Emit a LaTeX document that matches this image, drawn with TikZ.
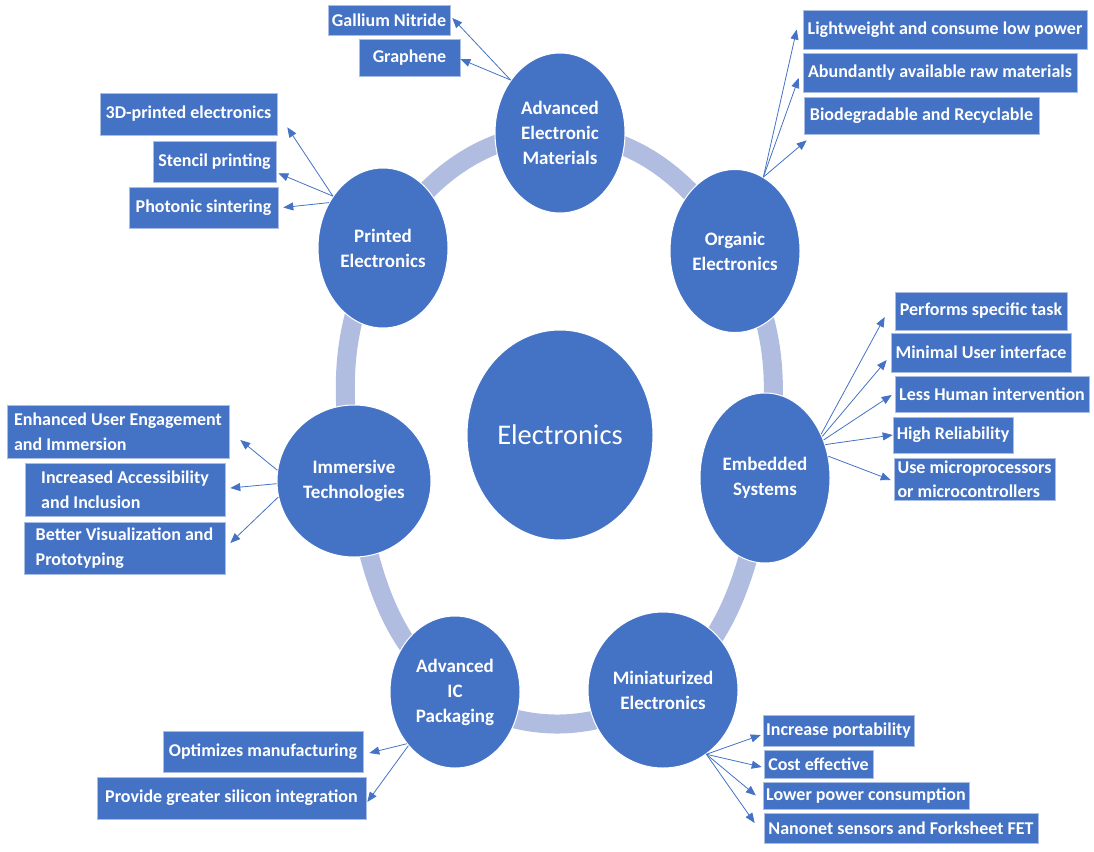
\documentclass[tikz,border=0pt]{standalone}
\usepackage{fontspec}
\setmainfont{Carlito}
\usetikzlibrary{shapes.geometric,arrows.meta,backgrounds}
\definecolor{topicblue}{RGB}{68,114,196}
\definecolor{ringblue}{RGB}{176,189,224}
\definecolor{edgeblue}{RGB}{170,190,228}
\tikzset{
  topic/.style={ellipse, draw=white, line width=1pt, fill=topicblue, text=white,
    font=\bfseries\fontsize{19}{25}\selectfont, align=center, inner sep=0pt},
  hub/.style={topic, font=\fontsize{28.5}{32}\selectfont},
  item/.style={rectangle, draw=edgeblue, line width=0.6pt, fill=topicblue, text=white,
    font=\bfseries\fontsize{18}{24.5}\selectfont, align=left, inner sep=3pt},
  line/.style={draw=topicblue, line width=0.8pt, -{Triangle[length=10pt,width=8pt]}},
  ring/.style={draw=ringblue, line width=19pt}
}

\begin{document}
\begin{tikzpicture}[x=1pt, y=-1pt]
    \useasboundingbox (0,0) rectangle (1094,851);
    % Place topics
    \node [hub, minimum width=186pt, minimum height=210pt] (elec) at (560,435) {Electronics};
    \node [topic, minimum width=130pt, minimum height=160pt] (aem) at (560,133) {Advanced\\Electronic\\Materials};
    \node [topic, minimum width=130pt, minimum height=163pt] (org) at (735,251) {Organic\\Electronics};
    \node [topic, minimum width=130pt, minimum height=170pt] (emb) at (765,478) {Embedded\\Systems};
    \node [topic, minimum width=150pt, minimum height=156pt] (mini) at (663,690) {Miniaturized\\Electronics};
    \node [topic, minimum width=130pt, minimum height=152pt] (icp) at (455,692) {Advanced\\IC\\Packaging};
    \node [topic, minimum width=154pt, minimum height=152pt] (imm) at (354,481) {Immersive\\Technologies};
    \node [topic, minimum width=130pt, minimum height=160pt] (prt) at (383,248) {Printed\\Electronics};
    % Ring behind the topics
    \begin{pgfonlayer}{background}
    \draw [ring] plot [smooth cycle, tension=0.75] coordinates {(aem.center) (org.center) (emb.center) (mini.center) (icp.center) (imm.center) (prt.center)};
    \end{pgfonlayer}
    % Place items
    \node [item, minimum width=122pt, minimum height=30pt] (gan) at (389,20) {Gallium Nitride};
    \node [item, minimum width=101pt, minimum height=37pt] (gra) at (409.5,57.5) {Graphene};
    \node [item, minimum width=284pt, minimum height=39pt] (light) at (945,29.5) {Lightweight and consume low power};
    \node [item, minimum width=274pt, minimum height=39pt] (abund) at (940,72.5) {Abundantly available raw materials};
    \node [item, minimum width=235pt, minimum height=37pt] (bio) at (921.5,115.5) {Biodegradable and Recyclable};
    \node [item, minimum width=177pt, minimum height=42pt] (ptd) at (188.5,114) {3D-printed electronics};
    \node [item, minimum width=123pt, minimum height=41pt] (sten) at (214.5,161.5) {Stencil printing};
    \node [item, minimum width=149pt, minimum height=41pt] (pho) at (203.5,207.5) {Photonic sintering};
    \node [item, minimum width=172pt, minimum height=38pt] (task) at (981,311) {Performs specific task};
    \node [item, minimum width=180pt, minimum height=39pt] (ui) at (981,352.5) {Minimal User interface};
    \node [item, minimum width=194pt, minimum height=36pt] (human) at (992,394) {Less Human intervention};
    \node [item, minimum width=120pt, minimum height=36pt] (rel) at (953,435) {High Reliability};
    \node [item, minimum width=161pt, minimum height=42pt, inner sep=1pt] (mcu) at (974.5,479) {Use microprocessors\\or microcontrollers};
    \node [item, minimum width=222pt, minimum height=53pt] (enh) at (118,431.5) {Enhanced User Engagement\\and Immersion};
    \node [item, minimum width=200pt, minimum height=53pt] (acc) at (125,489.5) {Increased Accessibility\\and Inclusion};
    \node [item, minimum width=201pt, minimum height=52pt] (vis) at (124.5,548) {Better Visualization and\\Prototyping};
    \node [item, minimum width=200pt, minimum height=41pt] (opt) at (263,751.5) {Optimizes manufacturing};
    \node [item, minimum width=269pt, minimum height=42pt] (sil) at (231.5,798) {Provide greater silicon integration};
    \node [item, minimum width=149pt, minimum height=31pt] (port) at (838.5,730.5) {Increase portability};
    \node [item, minimum width=109pt, minimum height=28pt] (cost) at (818.5,764) {Cost effective};
    \node [item, minimum width=204pt, minimum height=27pt] (pow) at (866,795.5) {Lower power consumption};
    \node [item, minimum width=274pt, minimum height=30pt] (nano) at (901,828) {Nanonet sensors and Forksheet FET};
    % Draw arrows
    \path [line] (aem.133) -- ([xshift=2pt,yshift=2pt]gan.east);
    \path [line] (aem.133) -- ([yshift=-1.5pt]gra.east);
    \path [line] (org.69) -- ([xshift=-6pt]light.west);
    \path [line] (org.69) -- ([xshift=-4pt,yshift=-5.5pt]abund.west);
    \path [line] (org.69) -- ([xshift=3pt,yshift=-6pt]bio.south west);
    \path [line] (prt.134) -- ([xshift=10pt,yshift=8pt]ptd.south east);
    \path [line] (prt.134) -- ([xshift=2pt,yshift=9pt]sten.south east);
    \path [line] (prt.140) -- ([xshift=5pt]pho.east);
    \path [line] (emb.38) -- ([xshift=-10pt,yshift=-6pt]task.west);
    \path [line] (emb.36) -- ([xshift=-4pt,yshift=-7.5pt]ui.west);
    \path [line] (emb.33) -- ([xshift=-3pt,yshift=-1pt]human.west);
    \path [line] (emb.29) -- (rel.west);
    \path [line] (emb.19) -- ([xshift=-3pt,yshift=-1pt]mcu.west);
    \path [line] (imm.172) -- ([xshift=11pt,yshift=-8.5pt]enh.east);
    \path [line] (imm.182) -- ([xshift=5pt,yshift=1.5pt]acc.east);
    \path [line] (imm.192) -- ([xshift=5pt,yshift=5pt]vis.east);
    \path [line] (icp.227) -- ([xshift=6pt,yshift=-1.5pt]opt.east);
    \path [line] (icp.229) -- ([xshift=1pt,yshift=-4pt]sil.east);
    \path [line] (mini.304) -- ([xshift=-2pt,yshift=-4.5pt]port.west);
    \path [line] (mini.304) -- ([xshift=-2pt,yshift=-3pt]cost.west);
    \path [line] (mini.304) -- ([xshift=-7pt]pow.west);
    \path [line] (mini.304) -- ([xshift=-9pt,yshift=5pt]nano.west);
\end{tikzpicture}
\end{document}
